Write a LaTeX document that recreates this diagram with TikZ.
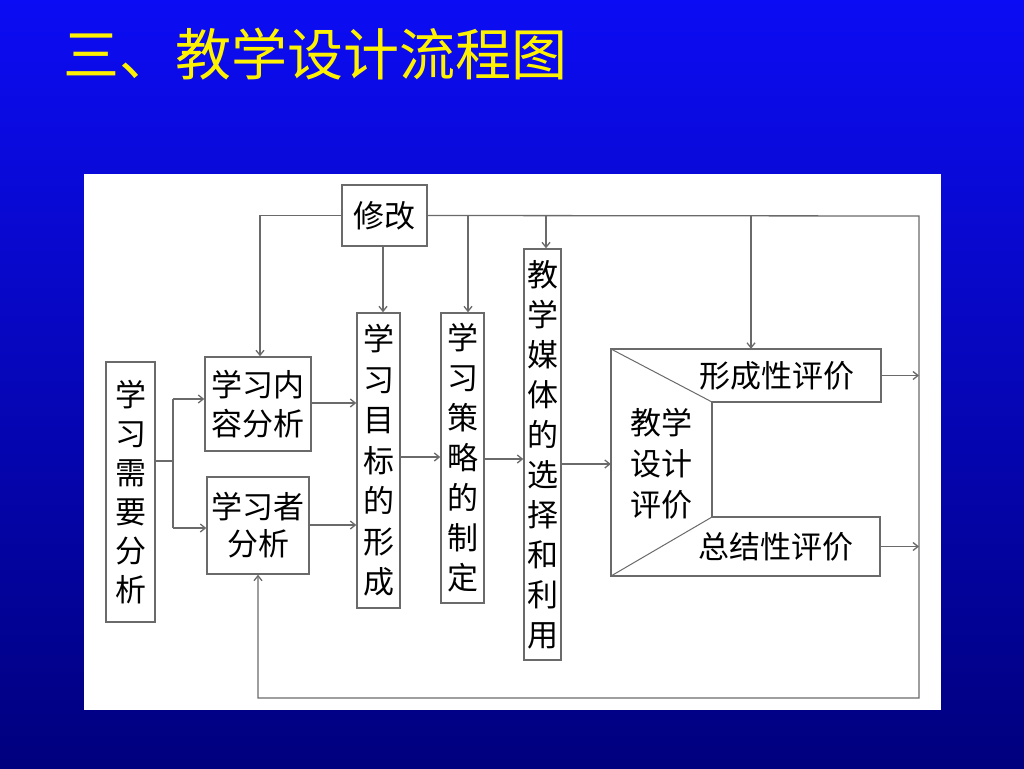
\documentclass[tikz,border=0pt]{standalone}
\usepackage{fontspec}
\setmainfont{Liberation Serif}
\newfontfamily\cjk{Noto Sans CJK SC}
\usetikzlibrary{arrows.meta}
\definecolor{ln}{HTML}{6A6A6A}
\definecolor{bgtop}{HTML}{0C0CF4}
\definecolor{bgbot}{HTML}{00007E}
\begin{document}
\begin{tikzpicture}[x=1pt,y=-1pt,
  boxnode/.style={draw=ln,line width=1.4pt,fill=white,inner sep=0pt,align=center,
    font=\cjk\fontsize{31}{39}\selectfont},
  plain/.style={inner sep=0pt,align=center,font=\cjk\fontsize{31}{39}\selectfont},
  conn/.style={draw=ln,line width=1.3pt},
  arr/.style={conn,-{Straight Barb[length=5pt,width=8pt]}}]
\useasboundingbox (0,0) rectangle (1024,768);
\shade[top color=bgtop,bottom color=bgbot] (0,0) rectangle (1024,768);
\node[anchor=west,inner sep=0pt,text=yellow,font=\cjk\fontsize{56}{56}\selectfont] (title) at (63,54) {三、教学设计流程图};
\fill[white] (84,174) rectangle (941,710);
% boxes
\node[boxnode,minimum width=49pt,minimum height=260pt] (need) at (130.5,492) {学\\习\\需\\要\\分\\析};
\node[boxnode,minimum width=106pt,minimum height=94pt] (content) at (258,404) {学习内\\容分析};
\node[boxnode,minimum width=102pt,minimum height=97pt,font=\cjk\fontsize{31}{37}\selectfont] (learner) at (258,525.5) {学习者\\分析};
\node[boxnode,minimum width=43pt,minimum height=295pt,font=\cjk\fontsize{31}{40.5}\selectfont] (goal) at (378.5,460.5) {学\\习\\目\\标\\的\\形\\成};
\node[boxnode,minimum width=43pt,minimum height=290pt,font=\cjk\fontsize{31}{40}\selectfont] (strat) at (462.5,458) {学\\习\\策\\略\\的\\制\\定};
\node[boxnode,minimum width=37pt,minimum height=411pt,font=\cjk\fontsize{31}{40}\selectfont] (media) at (542.5,454.5) {教\\学\\媒\\体\\的\\选\\择\\和\\利\\用};
\node[boxnode,minimum width=85pt,minimum height=61pt] (modify) at (384.5,215.5) {修改};
% evaluation shape
\draw[conn,line width=1.4pt,line join=miter] (611,349) -- (881,349) -- (881,402) -- (712,402) -- (712,517) -- (880,517) -- (880,576) -- (611,576) -- cycle;
\draw[conn,line width=1pt] (611,349) -- (712,402);
\draw[conn,line width=1pt] (712,517) -- (611,576);
\node[plain,minimum width=101pt,minimum height=227pt,font=\cjk\fontsize{31}{41}\selectfont] (eval) at (661.5,464) {教学\\设计\\评价};
\node[plain,minimum width=169pt,minimum height=53pt,anchor=east] (form) at (881,375.5) {形成性评价\hspace*{26pt}};
\node[plain,minimum width=168pt,minimum height=59pt,anchor=east] (summ) at (880,546.5) {总结性评价\hspace*{26pt}};
% coordinates
\coordinate (split) at (173,461);
\coordinate (tr) at (919,216);
\coordinate (br) at (919,698);
\coordinate (fb) at (751,216);
% left split
\draw[conn] (need.east |- split) -- (split);
\draw[conn] (173,399) -- (173,528);
\draw[arr] (173,399) -- (content.west |- 0,399);
\draw[arr] (173,528) -- (learner.west |- 0,528);
% main flow
\draw[arr] (content.east |- 0,403) -- (goal.west |- 0,403);
\draw[arr] (learner.east |- 0,525) -- (goal.west |- 0,525);
\draw[arr] (goal.east |- 0,457) -- (strat.west |- 0,457);
\draw[arr] (strat.east |- 0,459) -- (media.west |- 0,459);
\draw[arr] (media.east |- 0,464) -- (eval.west |- 0,464);
% feedback
\draw[arr] (modify.west) -| ([xshift=2pt]content.north);
\draw[arr] (modify.east) -- (tr) -- (br) -| (learner.south);
\draw[arr] ([xshift=-1.5pt]modify.south) -- ([xshift=-1.5pt]modify.south |- goal.north);
\draw[arr] ([xshift=5.5pt]strat.north |- tr) -- ([xshift=5.5pt]strat.north);
\draw[arr] ([xshift=3.5pt]media.north |- tr) -- ([xshift=3.5pt]media.north);
\draw[arr] (fb) -- (fb |- form.north);
\draw[arr] (form.east) -- (form.east -| br);
\draw[arr] (summ.east) -- (summ.east -| br);
\end{tikzpicture}
\end{document}
